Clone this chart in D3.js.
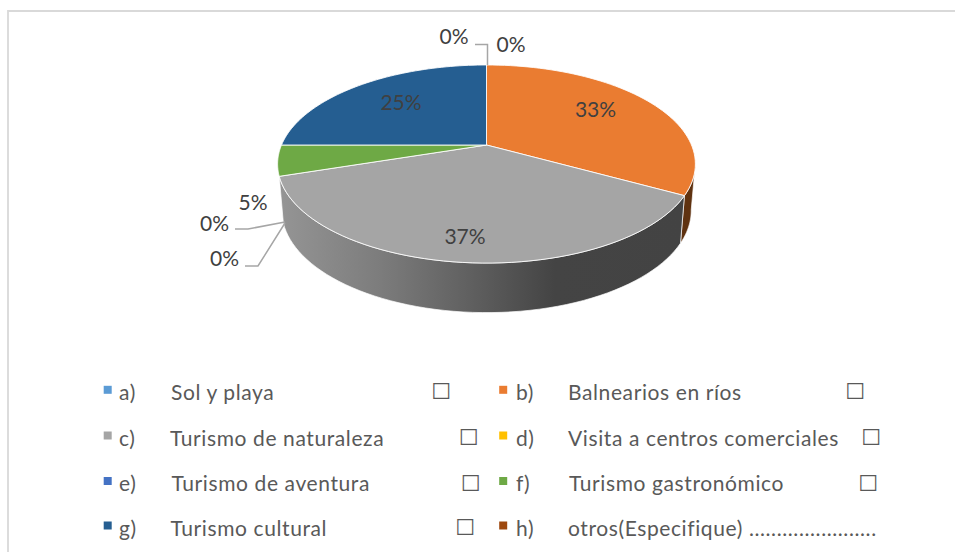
<!DOCTYPE html>
<html><head><meta charset="utf-8">
<script src="https://cdn.jsdelivr.net/npm/d3@7"></script>
<style>html,body{margin:0;background:#fff}svg{display:block}</style></head>
<body><svg id="c" width="955" height="552"></svg>
<script>
const categories = ["a","b","c","d","e","f","g","h"];
const values = [0,33,37,0,0,5,25,0];
const colors = ["#5b9bd5","#ea7c31","#a5a5a5","#ffc000","#4472c4","#6ea945","#255e91","#9e480e"];
const wallColors = ["#37607f","#5f3210","url(#wallGrey)","#7f6000","#2a4576","#43682b","#16384f","#5f2c08"];
const legendPrefix = ["a)","b)","c)","d)","e)","f)","g)","h)"];
const legendText = ["Sol y playa","Balnearios en ríos","Turismo de naturaleza","Visita a centros comerciales","Turismo de aventura","Turismo gastronómico","Turismo cultural","otros(Especifique) ......................."];
const dataLabels = ["0%","33%","37%","0%","0%","5%","25%","0%"];

// layout
const cx=486.5, cy=145, R=205, A=95.4, K=-0.192, wallSX=.98, wallSY=1.03, wallDY=46;
const labelPos=[[454,43.5],[595.5,117],[465,243.5],[214.5,231],[224.5,266],[253,210],[401,109.5],[511,51.5]];
const legendRows=[392.8,438.5,484,528.5];
const legendMarkX=[107.7,503.2], legendPreX=[119,516];
const legendTextX=[[171,568],[170,568],[171.5,569],[170.5,568]];
const checkX=[[441,855],[468.5,871],[470.5,868],[465,null]];

const svg=d3.select("#c");
const defs=svg.append("defs");
const g=defs.append("linearGradient").attr("id","wallGrey");
[[0,"#959595"],[.25,"#7c7c7c"],[.5,"#5c5c5c"],[.68,"#444444"],[1,"#434343"]].forEach(s=>g.append("stop").attr("offset",s[0]).attr("stop-color",s[1]));

svg.append("path").attr("d","M8,552V11H955").attr("fill","none").attr("stroke","#d9d9d9").attr("stroke-width",1.8);

const pie=d3.pie().sort(null).value(d=>d)(values);
function proj(t){const u=Math.sin(t),v=-Math.cos(t),d=1+K*v;return [R*u/d,A*v/d];}
const topRim=t=>{const p=proj(t);return [cx+p[0],cy+p[1]];};
const lowRim=t=>{const p=proj(t);return [cx+p[0]*wallSX,cy+p[1]*wallSY+wallDY];};
const steps=(a,b)=>d3.range(0,61).map(i=>a+(b-a)*i/60);
const line=d3.line();
const wallFrom=0.56*Math.PI, wallTo=1.4*Math.PI;
// walls: only the part of the side that the camera sees
pie.forEach((s,i)=>{
  const a=Math.max(s.startAngle,wallFrom),b=Math.min(s.endAngle,wallTo);
  if(b<=a) return;
  const ts=steps(a,b);
  svg.append("path").attr("d",line(ts.map(topRim).concat(ts.slice().reverse().map(lowRim)))+"Z")
    .attr("fill",wallColors[i]).attr("stroke","#fff").attr("stroke-width",.8).attr("stroke-opacity",.85);
});
// top faces
pie.forEach((s,i)=>{
  if(s.endAngle<=s.startAngle) return;
  svg.append("path").attr("d",line([[cx,cy]].concat(steps(s.startAngle,s.endAngle).map(topRim)))+"Z")
    .attr("fill",colors[i]).attr("stroke","#fff").attr("stroke-width",1).attr("stroke-opacity",.85);
});
// leader lines for zero-valued slices
const leader=[[[cx+1,65],[cx+1,44.5],[475,44.5]],[[285,222],[248,229],[235,229]],[[285,223],[258,266],[245,266]]];
leader.forEach(p=>svg.append("path").attr("d",line(p)).attr("fill","none").attr("stroke","#a6a6a6").attr("stroke-width",1.5));
// labels
labelPos.forEach((p,i)=>svg.append("text").attr("x",p[0]).attr("y",p[1]).attr("text-anchor","middle")
  .attr("font-family","Lato").attr("font-size",21).attr("fill","#404040").text(dataLabels[i]));
// legend
categories.forEach((c,i)=>{
  const col=i%2,row=Math.floor(i/2),y=legendRows[row];
  svg.append("rect").attr("x",legendMarkX[col]-4).attr("y",y-3-4).attr("width",8).attr("height",8).attr("fill",colors[i]);
  const T=(x,t)=>svg.append("text").attr("x",x).attr("y",y+7).attr("font-family","Lato").attr("font-size",21).attr("letter-spacing",.6).attr("fill","#595959").text(t);
  T(legendPreX[col],legendPrefix[i]);
  T(legendTextX[row][col],legendText[i]);
  if(checkX[row][col]!==null) svg.append("text").attr("x",checkX[row][col]).attr("y",y+6.5).attr("text-anchor","middle")
    .attr("font-family","DejaVu Sans").attr("font-size",22).attr("fill","#595959").text("☐");
});
</script></body></html>
